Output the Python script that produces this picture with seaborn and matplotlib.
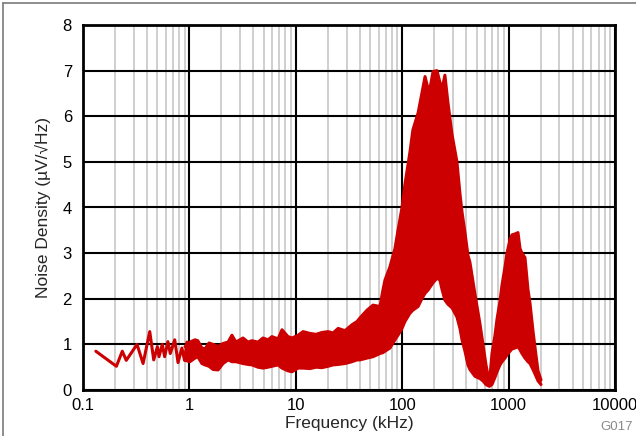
import matplotlib
matplotlib.use("Agg")
import matplotlib.pyplot as plt
import seaborn as sns
import pandas as pd
from matplotlib.lines import Line2D
from matplotlib.ticker import FixedLocator, LogLocator, NullFormatter

# Low-frequency part of the trace: individual samples (kHz, uV/rtHz)
lf_freq = [0.132, 0.206, 0.234, 0.255, 0.322, 0.367, 0.424, 0.462, 0.50, 0.518,
           0.556, 0.585, 0.628, 0.661, 0.728, 0.782, 0.85, 0.90, 0.95]
lf_noise = [0.85, 0.52, 0.85, 0.65, 1.00, 0.58, 1.28, 0.66, 0.95, 0.73,
            1.00, 0.73, 1.06, 0.80, 1.10, 0.60, 0.92, 0.65, 1.05]

# Above ~1 kHz the trace oscillates densely: its upper and lower extent
band_freq = [0.91, 1.01, 1.13, 1.20, 1.31, 1.40, 1.53, 1.67, 1.86, 2.07,
             2.31, 2.51, 2.74, 3.19, 3.56, 3.87, 4.41, 4.92, 5.48, 5.97,
             6.80, 7.42, 8.45, 9.21, 10.5, 11.7, 13.6, 15.5, 17.6, 20.1,
             22.4, 25.0, 29.0, 33.7, 37.6, 40.1, 46.7, 53.2, 61.8, 66.0,
             68.9, 76.7, 85.5, 91.3, 99.6, 106, 118, 126, 141, 153,
             164, 175, 182, 195, 212, 226, 237, 252, 269, 294,
             327, 349, 365, 389, 415, 433, 483, 538, 574, 613,
             660, 698, 745, 778, 830, 867, 925, 966, 1031, 1076,
             1148, 1225, 1280, 1336, 1426, 1521, 1589, 1694, 1811, 1890,
             2017]
band_high = [0.95, 1.05, 1.10, 1.08, 0.92, 0.90, 1.03, 1.00, 0.95, 1.02,
             1.05, 1.20, 1.05, 1.14, 1.05, 1.08, 1.05, 1.14, 1.10, 1.17,
             1.12, 1.32, 1.17, 1.14, 1.20, 1.28, 1.24, 1.22, 1.26, 1.28,
             1.25, 1.35, 1.30, 1.43, 1.50, 1.58, 1.75, 1.86, 1.83, 2.20,
             2.41, 2.70, 3.10, 3.50, 4.00, 4.50, 5.20, 5.70, 6.07, 6.50,
             6.87, 6.60, 6.60, 6.98, 7.00, 6.75, 6.60, 6.90, 6.30, 5.60,
             5.00, 4.30, 3.90, 3.45, 2.95, 2.80, 2.10, 1.45, 1.00, 0.55,
             0.15, 0.80, 1.20, 1.55, 1.95, 2.30, 2.70, 3.00, 3.30, 3.40,
             3.42, 3.45, 3.10, 3.00, 2.90, 2.20, 1.90, 1.30, 0.75, 0.42,
             0.22]
band_low = [0.65, 0.62, 0.70, 0.73, 0.58, 0.55, 0.52, 0.45, 0.44, 0.58,
            0.66, 0.62, 0.62, 0.58, 0.56, 0.55, 0.50, 0.48, 0.50, 0.52,
            0.55, 0.48, 0.42, 0.40, 0.48, 0.48, 0.47, 0.50, 0.49, 0.52,
            0.55, 0.56, 0.58, 0.62, 0.66, 0.66, 0.70, 0.73, 0.80, 0.82,
            0.85, 0.92, 1.10, 1.20, 1.35, 1.50, 1.68, 1.75, 1.83, 2.00,
            2.12, 2.19, 2.25, 2.35, 2.45, 2.41, 2.20, 1.97, 1.88, 1.80,
            1.60, 1.35, 1.10, 0.85, 0.55, 0.45, 0.30, 0.25, 0.20, 0.12,
            0.08, 0.12, 0.28, 0.40, 0.55, 0.62, 0.70, 0.77, 0.85, 0.90,
            0.92, 0.95, 0.88, 0.80, 0.70, 0.62, 0.58, 0.45, 0.30, 0.20,
            0.12]

x_ticks = [0.1, 1, 10, 100, 1000, 10000]
x_tick_labels = ["0.1", "1", "10", "100", "1000", "10000"]
y_ticks = [0, 1, 2, 3, 4, 5, 6, 7, 8]

RED = "#CC0000"

sns.set_theme(style="white")
plt.rcParams["font.family"] = ["Liberation Sans", "DejaVu Sans"]

fig = plt.figure(figsize=(6.36, 4.36), dpi=100)
W, H = 636, 436
ax = fig.add_axes([83 / W, 1 - 390 / H, (615 - 83) / W, (390 - 25) / H])
ax.set_xscale("log")
ax.set_xlim(0.1, 10000)
ax.set_ylim(0, 8)
ax.set_axisbelow(True)

# grid: light minor decades, black majors
ax.xaxis.set_major_locator(FixedLocator(x_ticks))
ax.set_xticklabels(x_tick_labels)
ax.xaxis.set_minor_locator(LogLocator(base=10, subs=range(2, 10), numticks=20))
ax.xaxis.set_minor_formatter(NullFormatter())
ax.set_yticks(y_ticks)
ax.grid(which="minor", axis="x", color="#cfcfcf", linewidth=1.4)
ax.grid(which="major", axis="both", color="black", linewidth=1.5)

lf = pd.DataFrame({"f": lf_freq, "v": lf_noise})
band = pd.DataFrame({"f": band_freq, "hi": band_high, "lo": band_low})

ax.fill_between(band["f"], band["lo"], band["hi"], color=RED, linewidth=0, zorder=3)
sns.lineplot(data=band, x="f", y="hi", ax=ax, color=RED, linewidth=2.2,
             estimator=None, sort=False, zorder=4)
sns.lineplot(data=band, x="f", y="lo", ax=ax, color=RED, linewidth=2.2,
             estimator=None, sort=False, zorder=4)
sns.lineplot(data=lf, x="f", y="v", ax=ax, color=RED, linewidth=2.2,
             estimator=None, sort=False, zorder=4)

for s in ax.spines.values():
    s.set_visible(True)
    s.set_color("black")
    s.set_linewidth(2.0)

ax.tick_params(axis="both", which="both", length=0, labelsize=12, colors="black")
ax.tick_params(axis="x", pad=6)
ax.tick_params(axis="y", pad=8)
ax.set_xlabel("Frequency (kHz)", fontsize=12.5, labelpad=2)
ax.set_ylabel("Noise Density (\u00b5V/\u221aHz)", fontsize=12.5, labelpad=8)

# page frame and figure code
fig.add_artist(Line2D([3 / W, 3 / W], [0, 1 - 3 / H], transform=fig.transFigure,
                      color="#7a7a7a", linewidth=1.2))
fig.add_artist(Line2D([3 / W, 1], [1 - 3 / H, 1 - 3 / H], transform=fig.transFigure,
                      color="#7a7a7a", linewidth=1.2))
fig.text(633 / W, 1 - 427 / H, "G017", ha="right", va="center",
         color="#8a8a8a", fontsize=9.5)

fig.savefig("out.png", dpi=100)
